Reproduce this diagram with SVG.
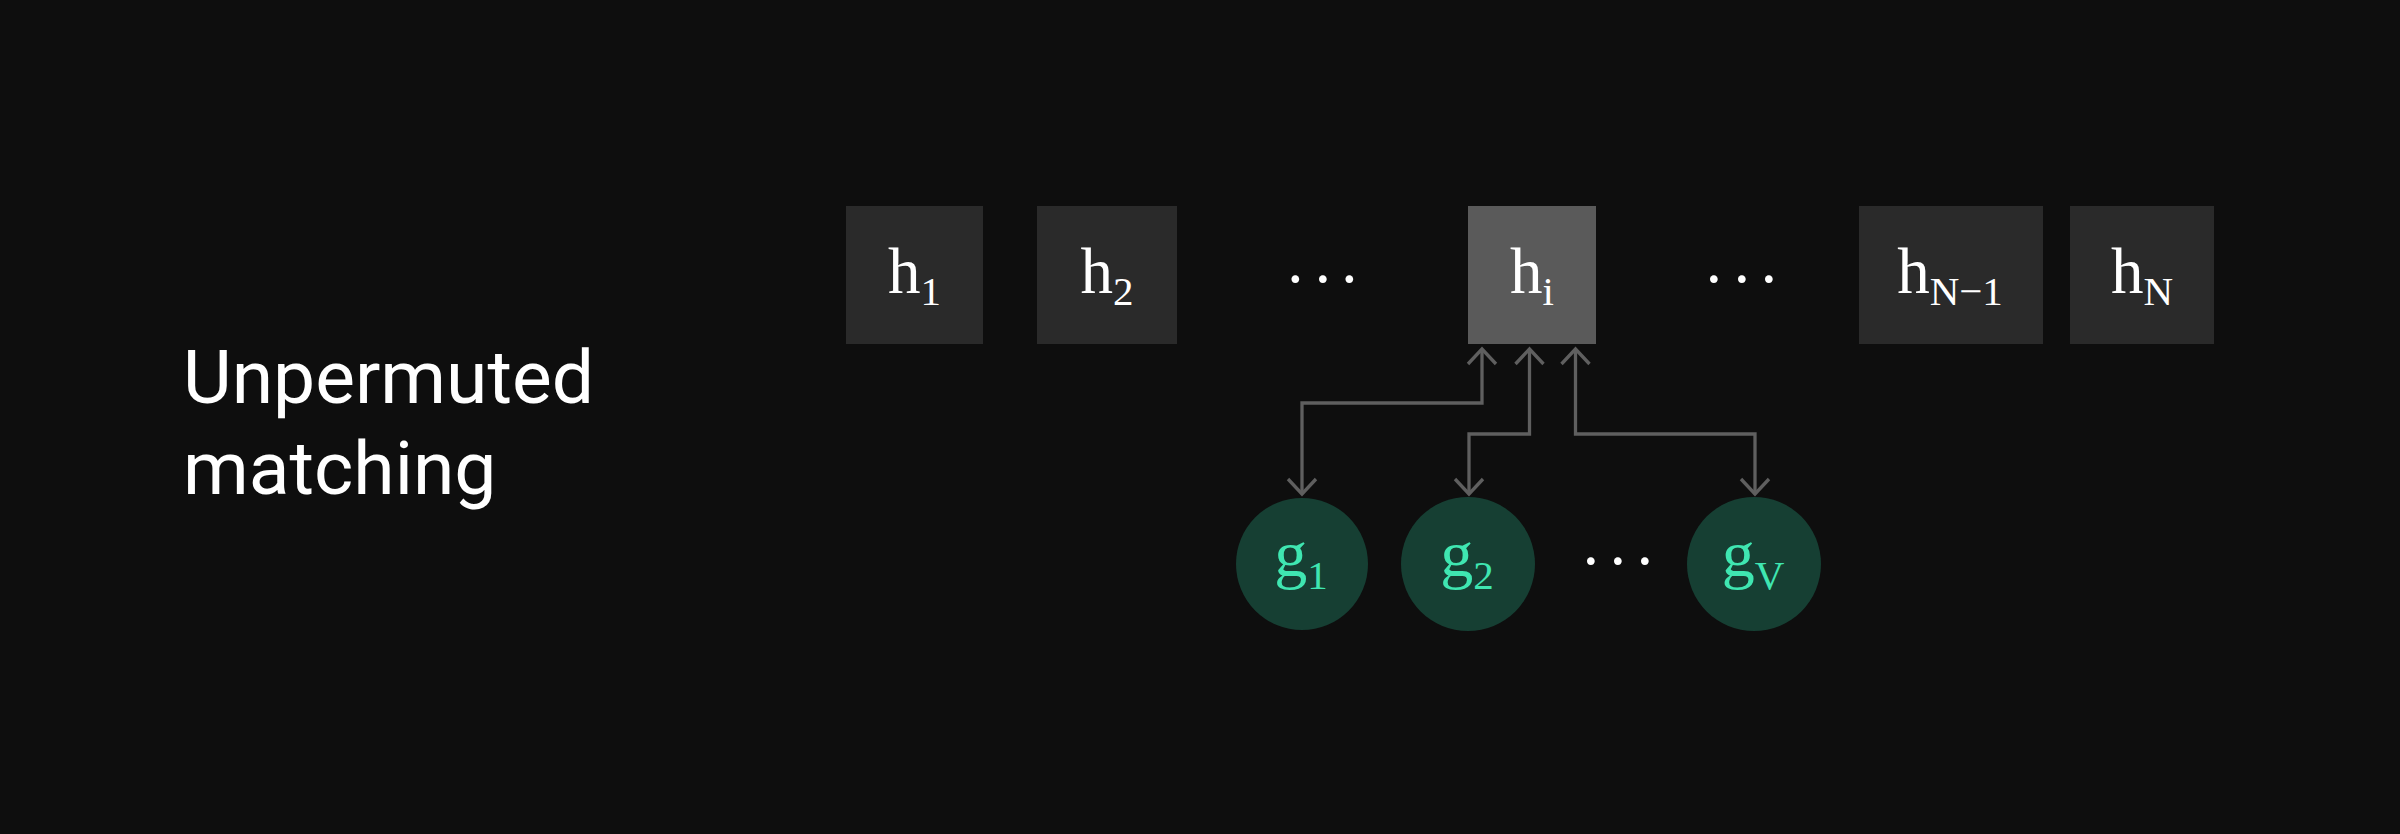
<svg xmlns="http://www.w3.org/2000/svg" width="2400" height="834" viewBox="0 0 2400 834">
  <defs>
    <style>
      .box { fill: #2a2a2a; }
      .box.sel { fill: #5a5a5a; }
      .ht { font-family: "Liberation Serif", "Times New Roman", serif; font-size: 65px; fill: #ffffff; text-anchor: middle; }
      .sub { font-size: 41px; }
      .gc { fill: #163f33; }
      .gt { font-family: "Liberation Serif", "Times New Roman", serif; font-size: 66px; fill: #3fe6b1; text-anchor: middle; }
      .dots { font-family: "Liberation Serif", "Times New Roman", serif; font-size: 65px; fill: #ffffff; }
      .title { font-family: Roboto, "Liberation Sans", sans-serif; font-size: 75px; fill: #ffffff; }
      .conn { fill: none; stroke: #5f5f5f; stroke-width: 3.3; marker-start: url(#arr); marker-end: url(#arr); }
    </style>
    <marker id="arr" markerUnits="userSpaceOnUse" viewBox="-20 -20 40 40" markerWidth="40" markerHeight="40" refX="0" refY="0" orient="auto-start-reverse" overflow="visible">
      <path d="M-15,-14 L0,0 L-15,14" fill="none" stroke="#5f5f5f" stroke-width="3.3"/>
    </marker>
  </defs>
  <rect width="2400" height="834" fill="#0e0e0e"/>

  <g id="title">
    <text class="title" x="183" y="403">Unpermuted</text>
    <text class="title" x="183" y="494">matching</text>
  </g>

  <g id="h1">
    <rect class="box" x="846" y="206" width="137" height="138"/>
    <text class="ht" x="914.5" y="293">h<tspan class="sub" dy="12">1</tspan></text>
  </g>
  <g id="h2">
    <rect class="box" x="1037" y="206" width="140" height="138"/>
    <text class="ht" x="1107" y="293">h<tspan class="sub" dy="12">2</tspan></text>
  </g>
  <g id="dots1">
    <text class="dots" x="1284.4 1312 1338.5" y="301">···</text>
  </g>
  <g id="hi">
    <rect class="box sel" x="1468" y="206" width="128" height="138"/>
    <text class="ht" x="1532" y="293">h<tspan class="sub" dy="12">i</tspan></text>
  </g>
  <g id="dots2">
    <text class="dots" x="1703 1731 1758" y="301">···</text>
  </g>
  <g id="hN-1">
    <rect class="box" x="1859" y="206" width="184" height="138"/>
    <text class="ht" x="1950" y="293">h<tspan class="sub" dy="12">N−1</tspan></text>
  </g>
  <g id="hN">
    <rect class="box" x="2070" y="206" width="144" height="138"/>
    <text class="ht" x="2142" y="293">h<tspan class="sub" dy="12">N</tspan></text>
  </g>

  <g id="connectors">
    <path class="conn" d="M1302,494 V403 H1482 V349"/>
    <path class="conn" d="M1469,494 V434 H1529.5 V349"/>
    <path class="conn" d="M1755,494 V434 H1575.5 V349"/>
  </g>

  <g id="g1">
    <circle class="gc" cx="1302" cy="564" r="66"/>
    <text class="gt" x="1301" y="576">g<tspan class="sub" dy="13">1</tspan></text>
  </g>
  <g id="g2">
    <circle class="gc" cx="1468" cy="564" r="67"/>
    <text class="gt" x="1467" y="576">g<tspan class="sub" dy="13">2</tspan></text>
  </g>
  <g id="dots3">
    <text class="dots" x="1580 1607 1634" y="583">···</text>
  </g>
  <g id="gV">
    <circle class="gc" cx="1754" cy="564" r="67"/>
    <text class="gt" x="1753" y="576">g<tspan class="sub" dy="13">V</tspan></text>
  </g>
</svg>
